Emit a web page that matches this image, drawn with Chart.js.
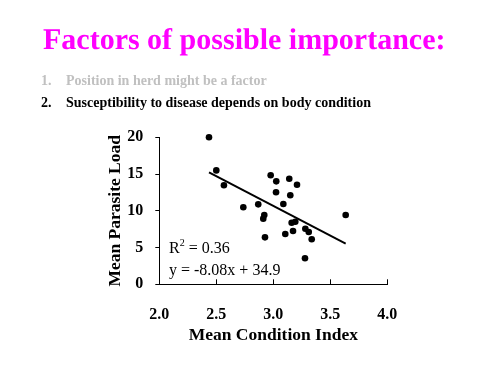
<!DOCTYPE html>
<html>
<head>
<meta charset="utf-8">
<script src="https://cdn.jsdelivr.net/npm/chart.js@4.4.1/dist/chart.umd.min.js"></script>
<style>
  body { margin: 0; background: #fff; }
  #wrap { position: relative; width: 500px; height: 375px; overflow: hidden; }
  #wrap div { position: absolute; white-space: nowrap; line-height: 1; font-family: 'Liberation Serif', 'Times New Roman', serif; }
  canvas { position: absolute; left: 0; top: 0; }
  #wrap .title { left: 43px; top: 25px; font-size: 30px; font-weight: bold; color: #ff00ff;
                 text-rendering: geometricPrecision; font-kerning: none; -webkit-font-smoothing: none; }
  .item { font-size: 14px; font-weight: bold; }
  .dim { color: #c0c0c0; }
  .note { font-size: 16px; color: #000; }
  .note span { position: relative; top: -7px; font-size: 10px; }
</style>
</head>
<body>
<div id="wrap">
  <canvas id="chart" width="500" height="375"></canvas>
  <div class="title">Factors of possible importance:</div>
  <div class="item dim" style="left:41px; top:74px;">1.</div>
  <div class="item dim" style="left:66px; top:74px;">Position in herd might be a factor</div>
  <div class="item" style="left:41px; top:96px;">2.</div>
  <div class="item" style="left:66px; top:96px;">Susceptibility to disease depends on body condition</div>
  <div class="note" style="left:169px; top:240px;">R<span>2</span> = 0.36</div>
  <div class="note" style="left:169px; top:262px;">y = -8.08x + 34.9</div>
</div>
<script>
// values
const conditionIndex = [2.436, 2.500, 2.567, 2.737, 2.868, 2.921, 2.912, 2.927, 2.977, 3.026,
                        3.024, 3.105, 3.088, 3.140, 3.149, 3.161, 3.193, 3.173, 3.208, 3.281,
                        3.311, 3.337, 3.278, 3.635];
const parasiteLoad = [20.0, 15.5, 13.47, 10.48, 10.88, 9.43, 8.93, 6.39, 14.83, 14.01,
                      12.52, 6.84, 10.93, 14.37, 12.11, 8.38, 8.52, 7.25, 13.55, 7.56,
                      7.12, 6.12, 3.54, 9.43];
const xTicks = [2.0, 2.5, 3.0, 3.5, 4.0];
const yTicks = [0, 5, 10, 15, 20];
const fitSlope = -8.08;
const fitIntercept = 34.9;

const serif = "'Liberation Serif', 'Times New Roman', serif";

const points = conditionIndex.map((x, i) => ({ x: x, y: parasiteLoad[i] }));
const xMin = Math.min(...conditionIndex);
const xMax = Math.max(...conditionIndex);
const fitLine = [xMin, xMax].map(x => ({ x: x, y: fitSlope * x + fitIntercept }));

// x axis ticks point up into the plot on the slide
const innerTicks = {
    id: 'innerTicks',
    afterDraw(chart) {
        const { ctx, scales: { x } } = chart;
        ctx.save();
        ctx.strokeStyle = '#000';
        ctx.lineWidth = 1;
        xTicks.forEach(v => {
            const px = Math.round(x.getPixelForValue(v)) + 0.5;
            ctx.beginPath();
            ctx.moveTo(px, x.top);
            ctx.lineTo(px, x.top - 5);
            ctx.stroke();
        });
        ctx.restore();
    }
};

new Chart(document.getElementById('chart').getContext('2d'), {
    type: 'scatter',
    data: {
        datasets: [{
            data: points,
            backgroundColor: '#000',
            borderWidth: 0,
            pointRadius: 3.3,
            clip: false
        }, {
            type: 'line',
            data: fitLine,
            borderColor: '#000',
            borderWidth: 2,
            pointRadius: 0,
            fill: false
        }]
    },
    options: {
        responsive: false,
        animation: false,
        layout: { padding: { left: 104.5, top: 137.3, right: 112.7, bottom: 28.8 } },
        plugins: {
            legend: { display: false },
            tooltip: { enabled: false }
        },
        scales: {
            x: {
                type: 'linear',
                min: 2, max: 4,
                afterBuildTicks: s => { s.ticks = xTicks.map(v => ({ value: v })); },
                afterFit: s => { s.height = 61.9; },
                ticks: {
                    padding: 13,
                    color: '#000',
                    font: { family: serif, size: 16, weight: 'bold' },
                    callback: v => v.toFixed(1)
                },
                grid: { display: false },
                border: { display: true, color: '#000', width: 1 },
                title: {
                    display: true,
                    text: 'Mean Condition Index',
                    color: '#000',
                    padding: 0,
                    font: { family: serif, size: 17.5, weight: 'bold' }
                }
            },
            y: {
                min: 0, max: 20,
                afterBuildTicks: s => { s.ticks = yTicks.map(v => ({ value: v })); },
                afterFit: s => { s.width = 54.8; },
                ticks: {
                    padding: 12,
                    color: '#000',
                    font: { family: serif, size: 16, weight: 'bold' }
                },
                grid: { drawOnChartArea: false, drawTicks: true, tickLength: 4, color: '#000' },
                border: { display: true, color: '#000', width: 1 },
                title: {
                    display: true,
                    text: 'Mean Parasite Load',
                    color: '#000',
                    padding: 0,
                    font: { family: serif, size: 17.5, weight: 'bold' }
                }
            }
        }
    },
    plugins: [innerTicks]
});
</script>
</body>
</html>
